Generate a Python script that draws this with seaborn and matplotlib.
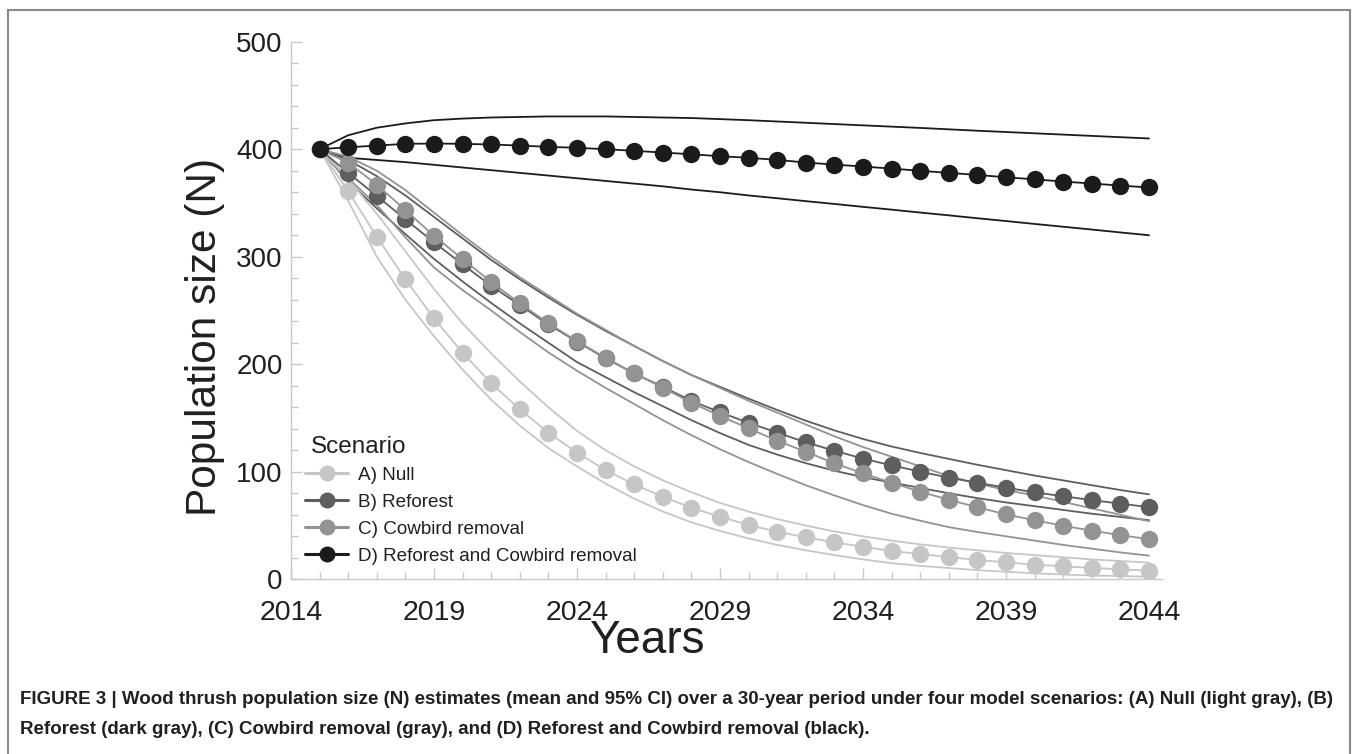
import matplotlib
matplotlib.use("Agg")
import matplotlib.pyplot as plt
from matplotlib.lines import Line2D
from matplotlib.patches import Rectangle
from matplotlib.ticker import MultipleLocator
import pandas as pd
import seaborn as sns

# ---- data: projected wood thrush abundance, 2015-2044 ----
years = list(range(2015, 2045))
scenarios = ["A) Null", "B) Reforest", "C) Cowbird removal",
             "D) Reforest and Cowbird removal"]
x_ticks = [2014, 2019, 2024, 2029, 2034, 2039, 2044]

null_mean = [400, 361, 318.6, 279, 242.7, 210.7, 182.3, 158.1, 136.3, 117.8,
             101.6, 88.3, 76.8, 66.6, 58.2, 50.5, 44.3, 39.1, 34.4, 30.3,
             26.3, 23.5, 20.7, 18, 15.8, 13.6, 12.1, 10.5, 9.3, 8]
null_upper = [400, 372, 340, 305, 270, 238, 210, 184, 160, 138,
              120, 105, 92, 81, 71, 63, 56, 50, 44.5, 40,
              36, 32.5, 29.5, 27, 24.5, 22.5, 20.5, 18.5, 17, 15.5]
null_lower = [400, 352, 300, 260, 226, 195, 167, 143, 122, 105,
              89, 75, 63, 53, 45, 38, 32, 27, 22.5, 18.5,
              15, 12.5, 10.5, 8.5, 7, 5.5, 4.5, 3.5, 3, 2.4]

refor_mean = [400, 378.1, 356.5, 334.8, 313.4, 292.9, 273, 255, 237, 221,
              205.5, 191.5, 179, 166, 155.3, 145.6, 136.4, 127.4, 119.6, 112.2,
              106, 100.1, 94.5, 89.8, 85.2, 80.9, 77.2, 73.7, 70.3, 67.2]
refor_upper = [400, 390, 375, 357, 337, 317, 297, 279, 262, 246,
               231, 217, 203, 190, 179, 168, 157.5, 147.5, 138.5, 130.5,
               123.5, 117.5, 112, 106.5, 101.5, 96.5, 92, 87.5, 83, 79]
refor_lower = [400, 370, 345, 321, 298, 277, 257, 238, 220, 202,
               188, 174, 161, 148, 136, 125, 116, 108, 101, 95,
               90, 85, 80, 75.5, 71.5, 68, 64.5, 61, 58, 55]

cowb_mean = [400, 387.4, 367, 343.4, 319.3, 297.9, 276.5, 256.7, 238.1, 221.5,
             206, 191.6, 178.2, 164.3, 151.9, 140.4, 128.9, 118.7, 107.9, 98.6,
             89.8, 81.5, 74, 67, 60.4, 54.9, 49.8, 45.2, 41.2, 37.2]
cowb_upper = [400, 393, 380, 362, 341, 320, 300, 281, 264, 247,
              232, 217, 203, 190, 178, 166, 155, 144, 133, 123,
              114, 105, 96, 89, 83, 78, 72, 66, 60, 54]
cowb_lower = [400, 373, 348, 318, 290, 269, 250, 230, 211, 194,
              178, 163, 148, 134, 121, 109, 98, 87.5, 78, 69,
              61, 54.5, 48.5, 44, 40, 36, 32, 28.5, 25, 22]

both_mean = [400, 401.8, 403.4, 405, 405.3, 405, 404.4, 403.4, 402.2, 401.3,
             400, 398.5, 396.9, 395.3, 393.5, 392, 390.1, 387.6, 385.7, 383.9,
             382, 379.9, 378, 376.1, 373.9, 372, 369.9, 368.1, 366.2, 364.4]
both_upper = [400, 413, 420, 424, 427, 428.5, 429.5, 430, 430.5, 430.5,
              430.5, 430, 429.5, 429, 428, 427, 425.8, 424.6, 423.4, 422.2,
              421, 419.8, 418.5, 417.2, 416, 414.8, 413.6, 412.4, 411.2, 410]
both_lower = [400, 392, 390, 388, 385.5, 383, 380.5, 378, 375.5, 373,
              370.5, 368, 365.5, 362.5, 360, 357, 354.4, 351.7, 349.1, 346.4,
              343.8, 341.1, 338.5, 335.8, 333.2, 330.5, 327.9, 325.3, 322.6, 320]

colors = ["#c5c6c7", "#5e5e5e", "#939393", "#1c1a1a"]

caption_1 = ("FIGURE 3 | Wood thrush population size (N) estimates (mean and 95% CI) "
             "over a 30-year period under four model scenarios: (A) Null (light gray), (B)")
caption_2 = ("Reforest (dark gray), (C) Cowbird removal (gray), and (D) Reforest and "
             "Cowbird removal (black).")

# ---- long table ----
frames = []
for name, m, lo, up in zip(
        scenarios,
        [null_mean, refor_mean, cowb_mean, both_mean],
        [null_lower, refor_lower, cowb_lower, both_lower],
        [null_upper, refor_upper, cowb_upper, both_upper]):
    frames.append(pd.DataFrame({"Year": years, "Scenario": name,
                                "mean": m, "lower": lo, "upper": up}))
df = pd.concat(frames, ignore_index=True)
palette = dict(zip(scenarios, colors))

# ---- style ----
sns.set_theme(style="ticks")
plt.rcParams["font.family"] = ["Liberation Sans", "DejaVu Sans"]
text_col = "#231f20"
axis_col = "#c8c8c8"

W, H = 1358, 754
fig = plt.figure(figsize=(W / 100, H / 100), dpi=100)
ax_l, ax_r, ax_b, ax_t = 291, 1162, 579.3, 41.7
ax = fig.add_axes([ax_l / W, 1 - ax_b / H, (ax_r - ax_l) / W, (ax_b - ax_t) / H])

# confidence bounds
for bound in ["lower", "upper"]:
    sns.lineplot(data=df, x="Year", y=bound, hue="Scenario", hue_order=scenarios,
                 palette=palette, legend=False, linewidth=1.3, ax=ax)
# means with markers
sns.lineplot(data=df, x="Year", y="mean", hue="Scenario", hue_order=scenarios,
             palette=palette, legend=False, linewidth=1.3, marker="o",
             markersize=12.5, markeredgewidth=0, ax=ax)

ax.set_xlim(2014, 2014 + (ax_r - ax_l) / 28.6)
ax.set_ylim(0, 500)
ax.set_xticks(x_ticks)
ax.xaxis.set_minor_locator(MultipleLocator(1))
ax.yaxis.set_major_locator(MultipleLocator(100))
ax.yaxis.set_minor_locator(MultipleLocator(20))
ax.tick_params(which="both", direction="in", color=axis_col, width=1.0,
               labelcolor=text_col)
ax.tick_params(which="major", length=8)
ax.tick_params(which="minor", length=5)
ax.tick_params(axis="x", which="major", pad=15, labelsize=20.5)
ax.tick_params(axis="y", which="major", pad=6, labelsize=20)
for side in ["top", "right"]:
    ax.spines[side].set_visible(False)
for side in ["left", "bottom"]:
    ax.spines[side].set_color(axis_col)
    ax.spines[side].set_linewidth(1.0)

ax.set_xlabel("Years", fontsize=33, color=text_col)
ax.set_ylabel("Population size (N)", fontsize=30.5, color=text_col)
ax.xaxis.set_label_coords((647 - ax_l) / (ax_r - ax_l), (ax_b - 619) / (ax_b - ax_t))
ax.yaxis.set_label_coords((225 - ax_l) / (ax_r - ax_l), (ax_b - 337) / (ax_b - ax_t))

handles = [Line2D([], [], color=c, lw=2.2, marker="o", markersize=11.5,
                  markeredgewidth=0) for c in colors]
leg = ax.legend(handles, scenarios, loc="lower left",
                bbox_to_anchor=((305 - ax_l) / (ax_r - ax_l), (ax_b - 565) / (ax_b - ax_t)),
                frameon=False, fontsize=13.6, handlelength=2.3,
                handletextpad=0.5, labelspacing=0.52, borderpad=0, borderaxespad=0)
for t in leg.get_texts():
    t.set_color(text_col)
ax.text((311 - ax_l) / (ax_r - ax_l), (ax_b - 447) / (ax_b - ax_t), "Scenario",
        transform=ax.transAxes, fontsize=17.5, color=text_col,
        ha="left", va="center")

cap_font = ["Liberation Sans", "DejaVu Sans"]
fig.text(20 / W, 1 - 700 / H, caption_1, fontsize=13.52, fontweight="bold",
         family=cap_font, color=text_col, va="center", ha="left")
fig.text(20 / W, 1 - 729 / H, caption_2, fontsize=13.52, fontweight="bold",
         family=cap_font, color=text_col, va="center", ha="left")

fig.patches.append(Rectangle((7.5 / W, -0.02), (1350 - 7.5) / W, (H - 10 + 15) / H,
                             transform=fig.transFigure, fill=False,
                             edgecolor="#8a8a8a", linewidth=1.5))

fig.savefig("out.png", dpi=100)
